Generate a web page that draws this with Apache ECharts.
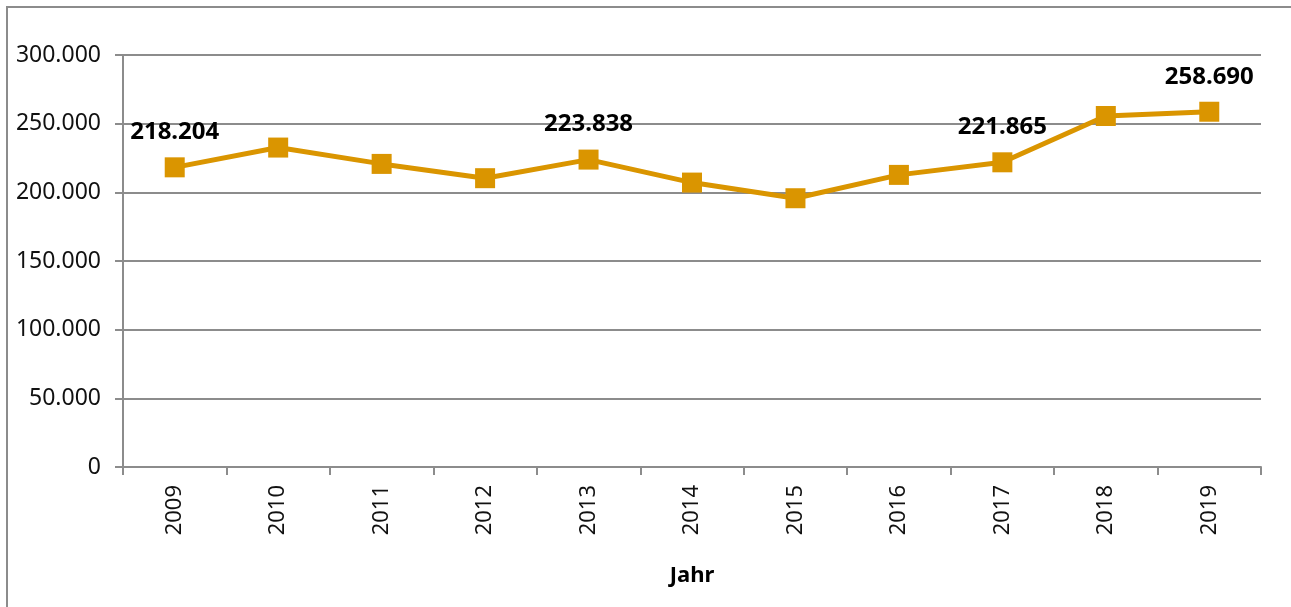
<!DOCTYPE html>
<html>
<head>
<meta charset="utf-8">
<script src="https://cdn.jsdelivr.net/npm/echarts@6/dist/echarts.min.js"></script>
<style>
    html, body { margin: 0; padding: 0; background: #fff; }
    #chart { width: 1291px; height: 607px; }
</style>
</head>
<body>
<div id="chart"></div>
<script>
// Jahre auf der x-Achse
const years = ['2009', '2010', '2011', '2012', '2013', '2014', '2015', '2016', '2017', '2018', '2019'];
// Werte pro Jahr
const values = [218204, 232600, 220700, 210300, 223838, 207100, 195700, 212700, 221865, 255600, 258690];
// nur diese Punkte bekommen eine Beschriftung
const labeledYears = ['2009', '2013', '2017', '2019'];

const fontFamily = '"Noto Sans", "Open Sans", sans-serif';
const lineColor = '#DA9500';
const axisColor = '#8c8c8c';

// 300000 -> "300.000"
const formatDe = (v) => String(Math.round(v)).replace(/\B(?=(\d{3})+(?!\d))/g, '.');

const seriesData = values.map((v, i) => ({
    value: v,
    label: { show: labeledYears.indexOf(years[i]) >= 0 }
}));

const chart = echarts.init(document.getElementById('chart'));
chart.setOption({
    animation: false,
    textStyle: { fontFamily: fontFamily },
    graphic: [{
        type: 'rect',
        shape: { x: 7, y: 7, width: 1400, height: 700 },
        style: { fill: 'none', stroke: axisColor, lineWidth: 2 },
        silent: true
    }],
    grid: { left: 123, right: 30, top: 55, bottom: 140 },
    xAxis: {
        type: 'category',
        data: years,
        boundaryGap: true,
        name: 'Jahr',
        nameLocation: 'middle',
        nameGap: 98,
        nameTextStyle: { fontSize: 22, fontWeight: 'bold', color: '#000', fontFamily: fontFamily },
        axisLine: { lineStyle: { color: axisColor, width: 2 } },
        axisTick: { show: true, length: 8, lineStyle: { color: axisColor, width: 2 } },
        axisLabel: { rotate: 90, margin: 18, fontSize: 22, color: '#111', fontFamily: fontFamily }
    },
    yAxis: {
        type: 'value',
        min: 0,
        max: 300000,
        interval: 50000,
        axisLine: { show: true, lineStyle: { color: axisColor, width: 2 } },
        axisTick: { show: true, length: 8, lineStyle: { color: axisColor, width: 2 } },
        splitLine: { lineStyle: { color: axisColor, width: 2 } },
        axisLabel: { margin: 22, fontSize: 23, color: '#111', fontFamily: fontFamily, formatter: formatDe }
    },
    series: [{
        type: 'line',
        data: seriesData,
        symbol: 'rect',
        symbolSize: 20,
        itemStyle: { color: lineColor },
        lineStyle: { color: lineColor, width: 5 },
        label: {
            position: 'top',
            distance: 13,
            fontSize: 24,
            fontWeight: 'bold',
            color: '#000',
            fontFamily: fontFamily,
            formatter: (p) => formatDe(p.value)
        }
    }]
});
</script>
</body>
</html>
